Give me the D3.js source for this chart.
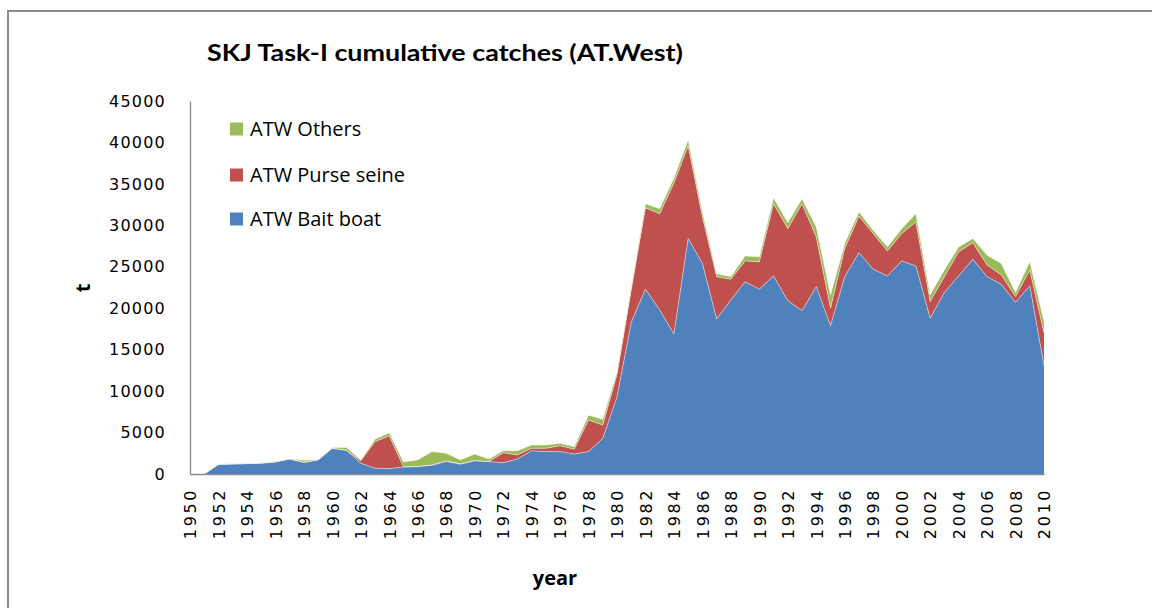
<!DOCTYPE html>
<html>
<head>
<meta charset="utf-8">
<script src="https://cdn.jsdelivr.net/npm/d3@7"></script>
<style>
  html, body { margin: 0; padding: 0; background: #fff; }
  svg { display: block; }
</style>
</head>
<body>
<svg id="chart" width="1152" height="608"></svg>
<script>
const years = d3.range(1950, 2011);
const baitBoat = [0,0,1150,1200,1250,1300,1450,1800,1400,1700,
  3100,2850,1300,700,650,850,900,1050,1500,1200,
  1600,1500,1350,1800,2800,2700,2700,2400,2700,4300,
  9300,18300,22300,19800,16900,28400,25400,18700,21000,23200,
  22300,23900,20900,19700,22600,17900,23800,26700,24700,23900,
  25700,25100,18800,21900,23900,25900,23800,22900,20700,22700,
  13100];
const purseSeine = [0,0,0,0,0,0,0,0,0,0,
  0,0,300,3200,3950,0,0,50,100,0,
  0,0,1200,500,300,400,700,600,3800,1600,
  2700,3900,9800,11600,18200,11200,5600,5100,2500,2500,
  3300,8700,8700,12900,6000,2100,3400,4400,4300,3000,
  3300,5300,2000,1900,2900,2000,1400,1100,700,1900,
  3900];
const others = [0,0,50,50,50,50,50,50,250,50,
  100,350,100,300,380,600,800,1600,900,500,
  800,300,250,500,400,400,300,300,600,700,
  300,300,500,600,600,700,600,350,300,600,
  600,700,700,600,1200,1600,600,500,400,500,
  600,1000,800,800,600,500,1200,1400,500,1000,
  1400];
const seriesNames = ["ATW Bait boat", "ATW Purse seine", "ATW Others"];
const seriesColors = ["#4F81BD", "#C0504D", "#9BBB59"];
const yTicks = [0,5000,10000,15000,20000,25000,30000,35000,40000,45000];
const xTicks = d3.range(1950, 2011, 2);

const svg = d3.select("#chart");
svg.append("rect").attr("width",1152).attr("height",608).attr("fill","#fff");
// outer chart border
svg.append("path").attr("d","M8,608 L8,11 L1152,11")
  .attr("fill","none").attr("stroke","#8a8a8a").attr("stroke-width",2);

const x = d3.scaleLinear().domain([1950, 2010]).range([190, 1044]);
const y = d3.scaleLinear().domain([0, 45000]).range([474, 101]);

const table = years.map((yr, i) => ({year: yr, b: baitBoat[i], p: purseSeine[i], o: others[i]}));
const stack = d3.stack().keys(["b","p","o"]);
const layers = stack(table);

const area = d3.area()
  .x(d => x(d.data.year))
  .y0(d => y(d[0]))
  .y1(d => y(d[1]));
const topLine = d3.line().x(d => x(d.data.year)).y(d => y(d[1]));

const g = svg.append("g");
layers.forEach((layer, i) => {
  g.append("path").attr("d", area(layer)).attr("fill", seriesColors[i]);
});
layers.forEach((layer, i) => {
  g.append("path").attr("d", topLine(layer)).attr("fill","none")
    .attr("stroke","rgba(255,255,255,0.45)").attr("stroke-width",1);
});

// axes
const yAxis = d3.axisLeft(y).tickValues(yTicks).tickSize(0).tickPadding(24).tickFormat(d3.format("d"));
const yg = svg.append("g").attr("transform","translate(190,0)").call(yAxis);
yg.select(".domain").attr("stroke","#8a8a8a").attr("stroke-width",1.3);
yg.selectAll("text").attr("font-family","DejaVu Sans").attr("font-size",16)
  .attr("letter-spacing","1.2px").attr("fill","#000");

const xAxis = d3.axisBottom(x).tickValues(xTicks).tickSize(0).tickFormat(d3.format("d"));
const xg = svg.append("g").attr("transform","translate(0,474)").call(xAxis);
xg.select(".domain").attr("stroke","#8a8a8a").attr("stroke-width",1.3);
xg.selectAll("text")
  .attr("font-family","DejaVu Sans").attr("font-size",16).attr("letter-spacing","2.6px")
  .attr("fill","#000")
  .attr("text-anchor","end")
  .attr("transform", "translate(0,14) rotate(-90)")
  .attr("x",0).attr("y",0).attr("dy","0.36em");

// titles
svg.append("text").attr("x",207).attr("y",61)
  .attr("font-family","Lato").attr("font-weight","bold").attr("font-size",23)
  .attr("textLength",476).attr("lengthAdjust","spacingAndGlyphs")
  .text("SKJ Task-I cumulative catches (AT.West)");
svg.append("text").attr("x",555).attr("y",585).attr("text-anchor","middle")
  .attr("font-family","Open Sans").attr("font-weight","bold").attr("font-size",20)
  .text("year");
svg.append("text").attr("transform","translate(90,288) rotate(-90)").attr("text-anchor","middle")
  .attr("font-family","Open Sans").attr("font-weight","bold").attr("font-size",20)
  .text("t");

// legend
const legendOrder = [2,1,0];
const legendY = [129,175,219];
legendOrder.forEach((si, k) => {
  svg.append("rect").attr("x",230).attr("y",legendY[k]-6.5).attr("width",13).attr("height",13)
    .attr("fill",seriesColors[si]);
  svg.append("text").attr("x",250).attr("y",legendY[k]).attr("dy","0.35em")
    .attr("font-family","Open Sans").attr("font-size",20).attr("fill","#000")
    .text(seriesNames[si]);
});
</script>
</body>
</html>
